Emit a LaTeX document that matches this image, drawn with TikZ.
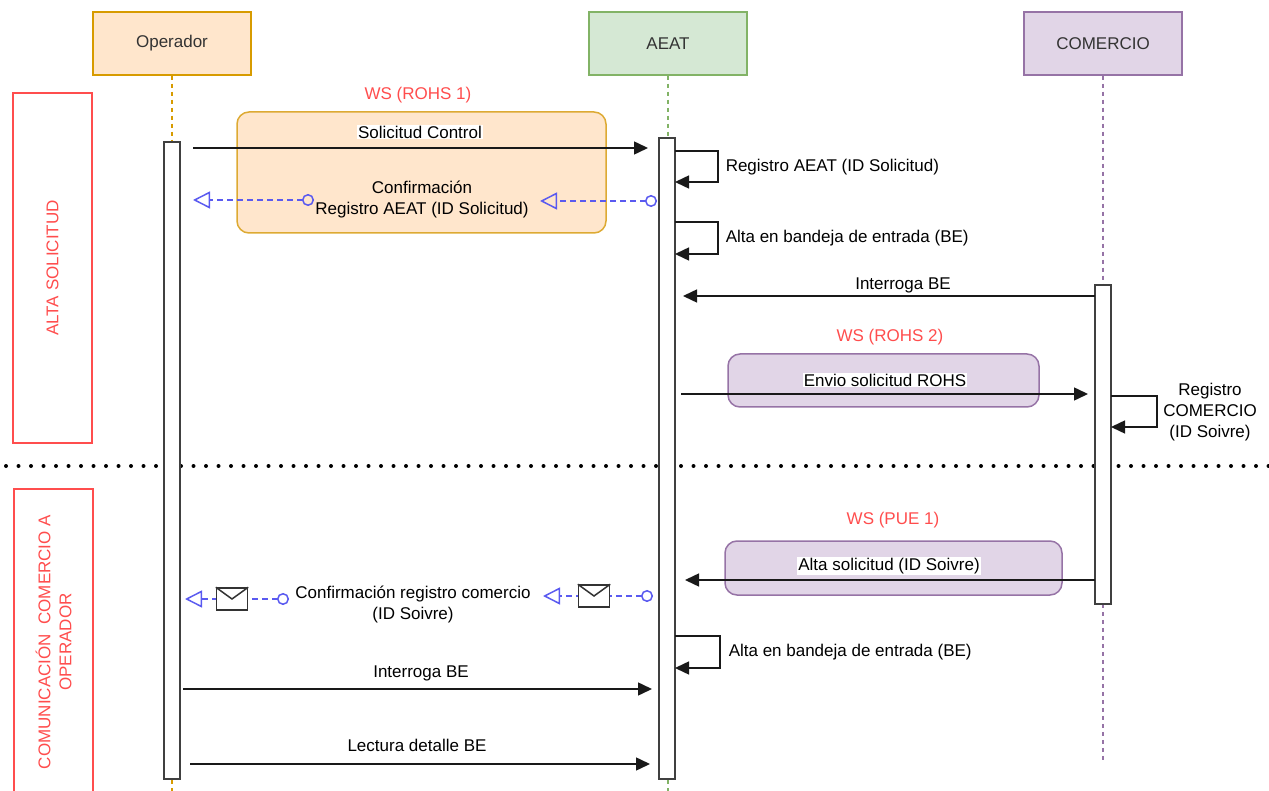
\documentclass[tikz,border=0pt]{standalone}
\usepackage{fontspec}
\setmainfont{Liberation Sans}
\usetikzlibrary{arrows.meta}
\definecolor{opfill}{HTML}{FFE6CC}
\definecolor{opline}{HTML}{D79B00}
\definecolor{aefill}{HTML}{D5E8D4}
\definecolor{aeline}{HTML}{82B366}
\definecolor{cofill}{HTML}{E1D5E7}
\definecolor{coline}{HTML}{9673A6}
\definecolor{wsline}{HTML}{DDAA33}
\definecolor{wsred}{HTML}{FF4D4D}
\definecolor{replyblue}{HTML}{5A5AF0}

\begin{document}
\begin{tikzpicture}[x=1pt, y=-1pt, font=\fontsize{17}{21}\selectfont, line width=1.5pt,
  actor/.style={draw, minimum width=158pt, minimum height=63pt, text=black!80},
  life/.style={line width=1.2pt, dash pattern=on 4pt off 4pt},
  bar/.style={draw=black!75, fill=white, minimum width=16pt, inner sep=0pt},
  msg/.style={draw=black!90, -{Triangle[length=14pt,width=13pt]}},
  reply/.style={draw=replyblue, dash pattern=on 6pt off 4pt, {Circle[open,length=12pt,width=12pt]}-{Triangle[open,length=17pt,width=17pt]}},
  lbl/.style={inner sep=1pt, align=center},
  wsbox/.style={draw, rounded corners=12pt, inner sep=0pt},
  wslbl/.style={text=wsred},
  secbox/.style={draw=wsred, text=wsred, rotate=90, align=center, inner sep=0pt},
  envbox/.style={draw=black!80, fill=white, minimum width=31pt, minimum height=22pt, inner sep=0pt}]
\useasboundingbox (0,0) rectangle (1269,791);
% participants and lifelines
\node[actor, draw=opline, fill=opfill] (op) at (172,43.5) {\raisebox{-3pt}{Operador}};
\node[actor, draw=aeline, fill=aefill] (aeat) at (668,43.5) {\raisebox{-3pt}{AEAT}};
\node[actor, draw=coline, fill=cofill] (com) at (1103,43.5) {\raisebox{-3pt}{COMERCIO}};
\coordinate (opend) at (172,791);
\coordinate (aeatend) at (668,791);
\coordinate (comend) at (1103,760);
\draw[life, draw=opline] (op) -- (opend);
\draw[life, draw=aeline] (aeat) -- (aeatend);
\draw[life, draw=coline] (com) -- (comend);
% phases
\node[secbox, minimum width=350pt, minimum height=79pt] (alta) at (52.5,268) {ALTA SOLICITUD};
\node[secbox, minimum width=306pt, minimum height=79pt] (comu) at (53.5,642) {COMUNICACIÓN\ \ COMERCIO A\\OPERADOR};
\coordinate (sepa) at (6,466);
\coordinate (sepb) at (1269,466);
\draw[line width=4pt, line cap=round, dash pattern=on 0pt off 12.5pt] (sepa) -- (sepb);
% web services
\node[wsbox, draw=wsline, fill=opfill, minimum width=369pt, minimum height=121pt] (ws1) at (421.5,172.5) {};
\node[wslbl] (ws1t) at (418,95) {WS (ROHS 1)};
\node[wsbox, draw=coline, fill=cofill, minimum width=311pt, minimum height=53pt] (ws2) at (883.5,380.5) {};
\node[wslbl] (ws2t) at (890,337) {WS (ROHS 2)};
\node[wsbox, draw=coline, fill=cofill, minimum width=337pt, minimum height=54pt] (ws3) at (893.5,568) {};
\node[wslbl] (ws3t) at (893,520) {WS (PUE 1)};
% activations
\node[bar, minimum height=637pt] (opbar) at (172,460.5) {};
\node[bar, minimum height=641pt] (aeatbar) at (667,458.5) {};
\node[bar, minimum height=319pt] (combar) at (1103,444.5) {};
% messages
\foreach \n/\xa/\xb/\y in {sol/193/648/148, intc/1095/683/296, envi/681/1088/394, alt/1095/685/580, into/183/652/689, lec/190/650/764}{
  \coordinate (\n-a) at (\xa,\y);
  \coordinate (\n-b) at (\xb,\y);
  \draw[msg] (\n-a) -- (\n-b);
}
\node[lbl, fill=white] (solt) at (420,132) {Solicitud Control};
\node[lbl] (intct) at (903,285) {Interroga BE};
\node[lbl, fill=white] (envit) at (885,380) {Envio solicitud ROHS};
\node[lbl, fill=white] (altt) at (889,566) {Alta solicitud (ID Soivre)};
\node[lbl] (intot) at (421,673) {Interroga BE};
\node[lbl] (lect) at (417,745) {Lectura detalle BE};
% self calls
\foreach \n/\xa/\w/\ya/\yb in {reg/675/43/151/182, bea/675/43/222/254, beb/675/45/636/668, regc/1111/46/396/427}{
  \coordinate (\n-a) at (\xa,\ya);
  \coordinate (\n-b) at (\xa,\yb);
  \draw[msg] (\n-a) -- ++(\w,0) |- (\n-b);
}
\node[lbl, anchor=west] (regt) at (724,167) {Registro AEAT (ID Solicitud)};
\node[lbl, anchor=west] (beat) at (724,238) {Alta en bandeja de entrada (BE)};
\node[lbl, anchor=west] (bebt) at (727,652) {Alta en bandeja de entrada (BE)};
\node[lbl] (regct) at (1210,412) {Registro\\COMERCIO\\(ID Soivre)};
% confirmations
\foreach \n/\xa/\xb/\y in {cfa/657/540/201, cfb/314/193/200, crc/653/543/596, crd/289/185/599}{
  \coordinate (\n-a) at (\xa,\y);
  \coordinate (\n-b) at (\xb,\y);
  \draw[reply] (\n-a) -- (\n-b);
}
\node[lbl] (cft) at (422,200) {Confirmación\\Registro AEAT (ID Solicitud)};
\node[lbl] (crt) at (413,604) {Confirmación registro comercio\\(ID Soivre)};
\node[envbox] (mail1) at (232,599) {};
\node[envbox] (mail2) at (594,596) {};
\foreach \m in {mail1, mail2}
  \draw[draw=black!80] (\m.north west) -- (\m.center) -- (\m.north east);
\end{tikzpicture}
\end{document}
